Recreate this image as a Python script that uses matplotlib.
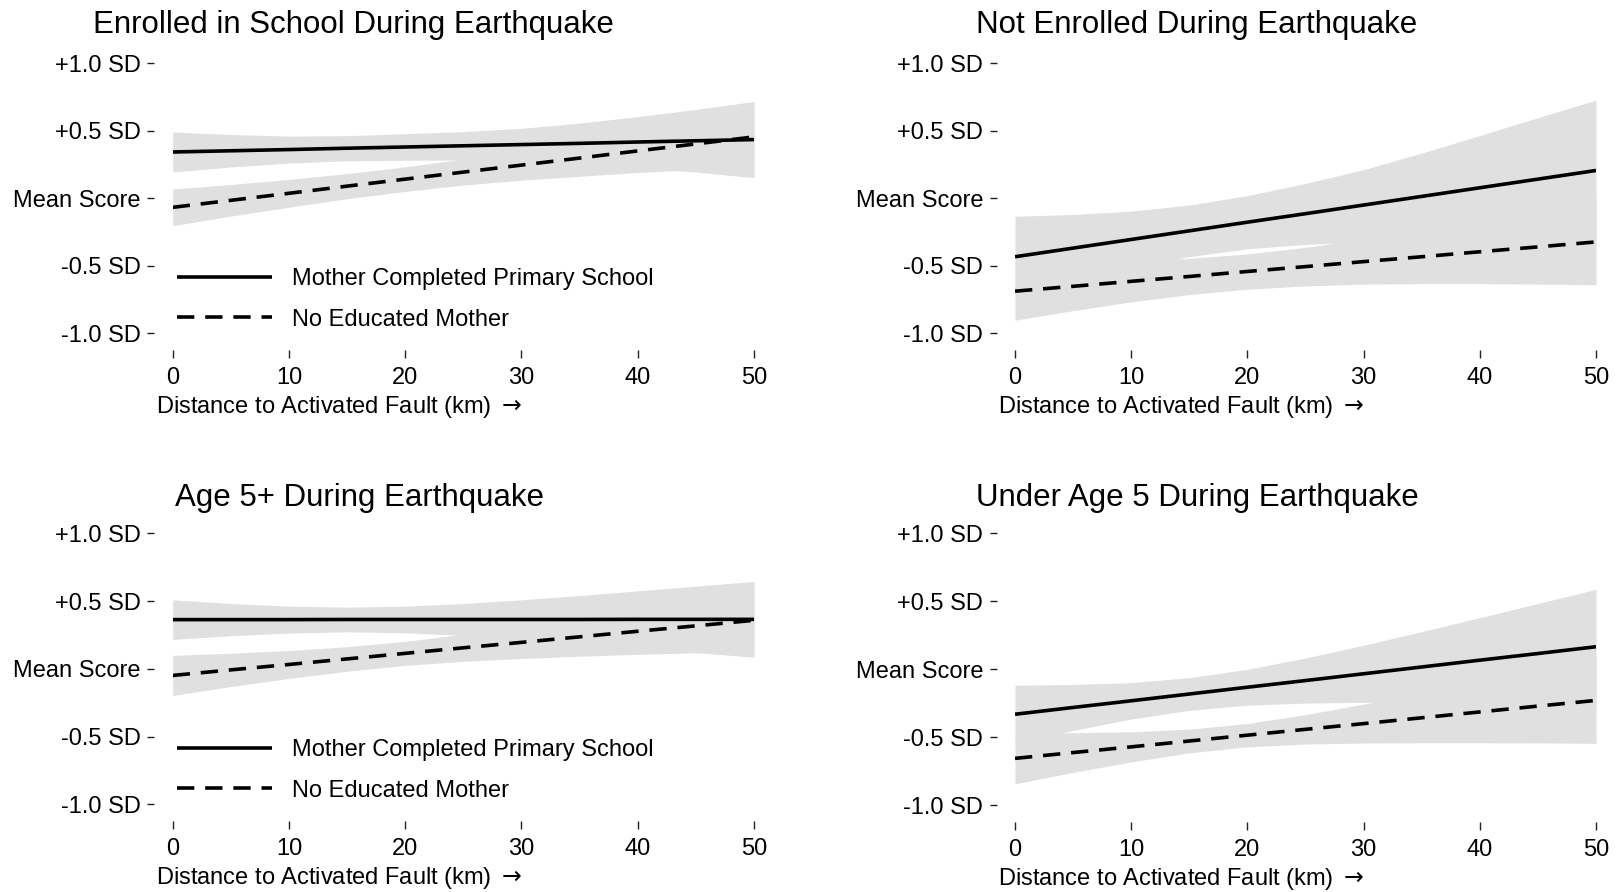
import numpy as np
import matplotlib
matplotlib.use("Agg")
import matplotlib.pyplot as plt

plt.rcParams['font.family'] = ['Liberation Sans', 'DejaVu Sans']

# distancia ao falha ativada (km)
km = [0, 5, 10, 15, 20, 25, 30, 35, 40, 45, 50]

# Enrolled in School During Earthquake
enr_prim_fit = [0.343, 0.352, 0.361, 0.371, 0.380, 0.389, 0.398, 0.407, 0.417, 0.426, 0.435]
enr_prim_lo = [0.195, 0.232, 0.261, 0.278, 0.282, 0.284, 0.278, 0.257, 0.229, 0.194, 0.153]
enr_prim_hi = [0.491, 0.472, 0.461, 0.464, 0.478, 0.494, 0.518, 0.557, 0.605, 0.658, 0.717]
enr_none_fit = [-0.067, -0.015, 0.037, 0.090, 0.142, 0.194, 0.246, 0.298, 0.351, 0.403, 0.455]
enr_none_lo = [-0.203, -0.132, -0.066, -0.003, 0.051, 0.098, 0.134, 0.163, 0.191, 0.213, 0.235]
enr_none_hi = [0.069, 0.102, 0.140, 0.183, 0.233, 0.290, 0.358, 0.433, 0.511, 0.593, 0.675]

# Not Enrolled During Earthquake
noe_prim_fit = [-0.433, -0.369, -0.305, -0.241, -0.177, -0.114, -0.050, 0.014, 0.078, 0.142, 0.206]
noe_prim_lo = [-0.733, -0.618, -0.515, -0.432, -0.374, -0.342, -0.324, -0.316, -0.313, -0.313, -0.315]
noe_prim_hi = [-0.133, -0.120, -0.095, -0.050, 0.020, 0.110, 0.212, 0.335, 0.465, 0.597, 0.727]
noe_none_fit = [-0.688, -0.652, -0.615, -0.579, -0.542, -0.506, -0.469, -0.433, -0.396, -0.360, -0.323]
noe_none_lo = [-0.903, -0.832, -0.767, -0.713, -0.673, -0.649, -0.636, -0.632, -0.632, -0.636, -0.640]
noe_none_hi = [-0.473, -0.472, -0.463, -0.445, -0.412, -0.363, -0.302, -0.234, -0.160, -0.084, -0.006]

# Age 5+ During Earthquake
a5_prim_fit = [0.363, 0.363, 0.363, 0.364, 0.364, 0.364, 0.364, 0.364, 0.365, 0.365, 0.365]
a5_prim_lo = [0.217, 0.244, 0.264, 0.273, 0.266, 0.246, 0.219, 0.188, 0.155, 0.120, 0.085]
a5_prim_hi = [0.509, 0.482, 0.462, 0.455, 0.462, 0.482, 0.509, 0.541, 0.575, 0.610, 0.645]
a5_none_fit = [-0.049, -0.008, 0.032, 0.073, 0.114, 0.155, 0.195, 0.236, 0.277, 0.317, 0.358]
a5_none_lo = [-0.197, -0.131, -0.071, -0.018, 0.025, 0.055, 0.076, 0.093, 0.107, 0.118, 0.129]
a5_none_hi = [0.099, 0.115, 0.135, 0.163, 0.203, 0.254, 0.314, 0.379, 0.447, 0.516, 0.587]

# Under Age 5 During Earthquake
u5_prim_fit = [-0.332, -0.282, -0.233, -0.183, -0.133, -0.084, -0.034, 0.016, 0.066, 0.115, 0.165]
u5_prim_lo = [-0.546, -0.451, -0.367, -0.303, -0.265, -0.250, -0.244, -0.244, -0.247, -0.253, -0.258]
u5_prim_hi = [-0.118, -0.113, -0.099, -0.063, -0.001, 0.082, 0.176, 0.276, 0.379, 0.483, 0.588]
u5_none_fit = [-0.657, -0.614, -0.572, -0.529, -0.486, -0.443, -0.401, -0.358, -0.315, -0.272, -0.230]
u5_none_lo = [-0.844, -0.760, -0.683, -0.616, -0.572, -0.551, -0.544, -0.542, -0.542, -0.543, -0.546]
u5_none_hi = [-0.470, -0.468, -0.461, -0.442, -0.400, -0.335, -0.258, -0.175, -0.088, -0.001, 0.086]

titulos = ['Enrolled in School During Earthquake', 'Not Enrolled During Earthquake',
           'Age 5+ During Earthquake', 'Under Age 5 During Earthquake']
y_ticks = [-1.0, -0.5, 0.0, 0.5, 1.0]
y_labels = ['-1.0 SD', '-0.5 SD', 'Mean Score', '+0.5 SD', '+1.0 SD']
x_ticks = [0, 10, 20, 30, 40, 50]
leg_labels = ['Mother Completed Primary School', 'No Educated Mother']
xlabel = 'Distance to Activated Fault (km) $\\rightarrow$'

paineis = [
    (enr_prim_fit, enr_prim_lo, enr_prim_hi, enr_none_fit, enr_none_lo, enr_none_hi),
    (noe_prim_fit, noe_prim_lo, noe_prim_hi, noe_none_fit, noe_none_lo, noe_none_hi),
    (a5_prim_fit, a5_prim_lo, a5_prim_hi, a5_none_fit, a5_none_lo, a5_none_hi),
    (u5_prim_fit, u5_prim_lo, u5_prim_hi, u5_none_fit, u5_none_lo, u5_none_hi),
]

W, H = 1620, 892
fig = plt.figure(figsize=(W / 100, H / 100), dpi=100)

# caixas dos paineis em pixels: esquerda, direita, topo (+1 SD), base (-1 SD)
caixas = [(172.7, 754, 63.3, 333.3), (1015, 1596, 63.3, 333.3),
          (172.7, 754, 533.3, 804.3), (1015, 1596, 533.3, 805)]
titulo_pos = [(353, 25), (1197, 25), (359.6, 498), (1197, 498)]

cinza = '#e0e0e0'
for i, (dados, caixa) in enumerate(zip(paineis, caixas)):
    pf, plo, phi, nf, nlo, nhi = dados
    x0, x1, yt, yb = caixa
    ax = fig.add_axes([x0 / W, 1 - yb / H, (x1 - x0) / W, (yb - yt) / H])

    ax.fill_between(km, plo, phi, color=cinza, lw=0)
    ax.fill_between(km, nlo, nhi, color=cinza, lw=0)
    ax.plot(km, pf, color='black', lw=2.6, label=leg_labels[0], solid_capstyle='butt')
    ax.plot(km, nf, color='black', lw=2.6, ls=(0, (4.8, 3.0)), label=leg_labels[1])

    ax.set_xlim(0, 50)
    ax.set_ylim(-1, 1)
    ax.set_yticks(y_ticks)
    ax.set_yticklabels(y_labels)
    ax.set_xticks(x_ticks)
    for lado in ['top', 'right']:
        ax.spines[lado].set_visible(False)
    ax.spines['left'].set_position(('outward', 13.3))
    ax.spines['bottom'].set_position(('outward', 12.0))
    ax.spines['left'].set_visible(False)
    ax.spines['bottom'].set_visible(False)
    ax.tick_params(axis='y', length=5.2, width=1.0, pad=4.5, labelsize=17, color='#222222')
    ax.tick_params(axis='x', length=6.0, width=1.0, pad=6.5, labelsize=17, color='#222222')
    ax.patch.set_visible(False)

    ax.text(-16.5 / (x1 - x0), -(407 - 333.3) / (yb - yt), xlabel, transform=ax.transAxes,
            ha='left', va='center', fontsize=17)

    tx, ty = titulo_pos[i]
    fig.text(tx / W, 1 - ty / H, titulos[i], ha='center', va='center', fontsize=22.5)

    if i % 2 == 0:
        ax.legend(loc='center left', bbox_to_anchor=(0.008, 0.125), frameon=False,
                  fontsize=17, handlelength=4.0, handletextpad=0.85, labelspacing=0.78,
                  borderpad=0, borderaxespad=0)

fig.savefig('out.png', dpi=100)
